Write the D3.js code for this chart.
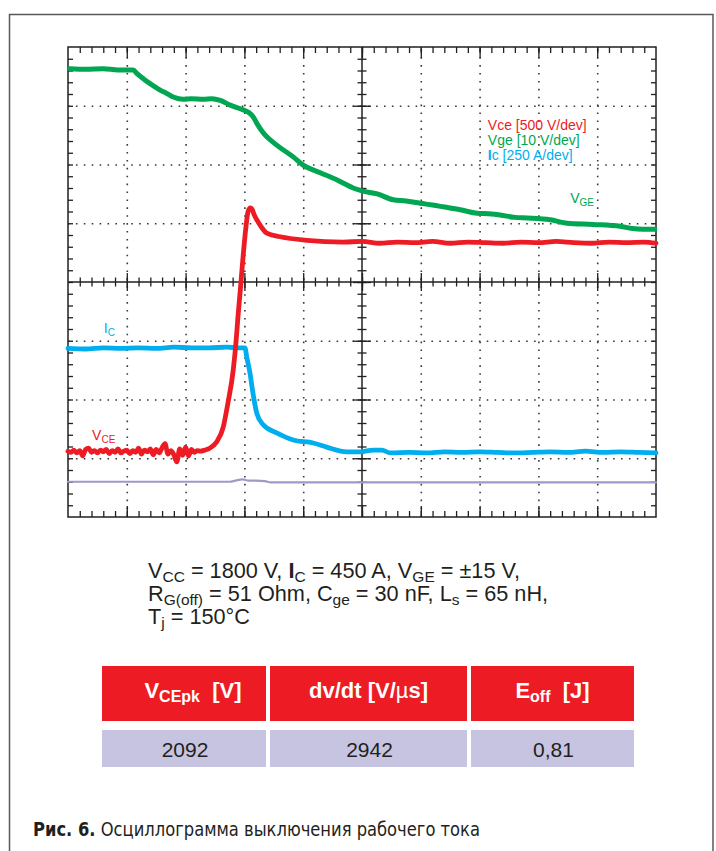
<!DOCTYPE html>
<html>
<head>
<meta charset="utf-8">
<script src="https://cdn.jsdelivr.net/npm/d3@7"></script>
<style>
  body { margin: 0; background: #fff; }
  svg { display: block; }
  text { font-family: "Liberation Sans", Arial, sans-serif; white-space: pre; }
</style>
</head>
<body>
<div id="chart"></div>
<script>
// scope traces: time in divisions (0..10), level in divisions from the bottom (0..8)
const vgeT = [0.03, 0.3, 0.6, 0.85, 1.11, 1.17, 1.28, 1.39, 1.5, 1.56, 1.68, 1.79, 1.96, 2.1, 2.3, 2.45, 2.59, 2.76, 2.98, 3.08, 3.15, 3.23, 3.32, 3.55, 3.83, 4.0, 4.29, 4.57, 4.85, 5.0, 5.26, 5.53, 5.75, 5.99, 6.2, 6.38, 6.67, 6.96, 7.15, 7.35, 7.6, 7.81, 8.2, 8.49, 8.93, 9.39, 9.6, 9.78, 9.98];
const vgeV = [7.63, 7.62, 7.63, 7.61, 7.61, 7.55, 7.46, 7.38, 7.31, 7.27, 7.21, 7.15, 7.11, 7.12, 7.11, 7.12, 7.09, 7.01, 6.93, 6.88, 6.81, 6.67, 6.54, 6.33, 6.13, 5.99, 5.86, 5.74, 5.6, 5.55, 5.5, 5.4, 5.38, 5.34, 5.31, 5.28, 5.23, 5.17, 5.16, 5.14, 5.1, 5.09, 5.06, 5.0, 4.98, 4.95, 4.91, 4.9, 4.9];

const vceT = [0.0, 0.05, 0.1, 0.15, 0.2, 0.25, 0.3, 0.35, 0.4, 0.45, 0.5, 0.55, 0.6, 0.65, 0.7, 0.75, 0.8, 0.85, 0.9, 0.95, 1.0, 1.05, 1.1, 1.15, 1.2, 1.25, 1.3, 1.35, 1.4, 1.45, 1.5, 1.55, 1.6, 1.65, 1.7, 1.75, 1.8, 1.85, 1.9, 1.95, 2.0, 2.05, 2.1, 2.15, 2.2, 2.25, 2.33, 2.41, 2.53, 2.64, 2.72, 2.81, 2.86, 2.89, 2.93, 2.98, 3.03, 3.06, 3.1, 3.13, 3.16, 3.21, 3.3, 3.38, 3.61, 4.06, 4.68, 5.0, 5.3, 5.6, 5.9, 6.2, 6.5, 6.8, 7.1, 7.4, 7.7, 8.0, 8.3, 8.6, 8.9, 9.2, 9.5, 9.8, 10.0];
const vceV = [1.12, 1.1, 1.14, 1.09, 1.13, 1.04, 1.15, 1.17, 1.1, 1.13, 1.09, 1.14, 1.11, 1.15, 1.08, 1.13, 1.1, 1.16, 1.09, 1.12, 1.14, 1.08, 1.13, 1.1, 1.17, 1.07, 1.14, 1.11, 1.16, 1.06, 1.15, 1.09, 1.18, 1.25, 1.07, 1.13, 1.06, 0.94, 1.16, 1.05, 1.19, 1.04, 1.15, 1.1, 1.13, 1.12, 1.14, 1.17, 1.28, 1.53, 1.94, 2.5, 3.01, 3.4, 3.86, 4.46, 4.97, 5.19, 5.26, 5.24, 5.16, 5.06, 4.92, 4.83, 4.77, 4.71, 4.68, 4.69, 4.66, 4.68, 4.67, 4.69, 4.66, 4.68, 4.67, 4.66, 4.68, 4.67, 4.69, 4.67, 4.66, 4.68, 4.67, 4.68, 4.66];

const icT = [0.0, 0.3, 0.6, 0.9, 1.2, 1.5, 1.8, 2.1, 2.4, 2.7, 2.9, 3.01, 3.04, 3.1, 3.13, 3.21, 3.32, 3.55, 3.83, 4.17, 4.4, 4.74, 4.97, 5.19, 5.34, 5.48, 5.8, 6.1, 6.4, 6.7, 7.0, 7.3, 7.6, 7.9, 8.2, 8.5, 8.8, 9.1, 9.4, 9.7, 10.0];
const icV = [2.87, 2.86, 2.88, 2.87, 2.88, 2.87, 2.89, 2.88, 2.88, 2.89, 2.88, 2.88, 2.72, 2.42, 2.21, 1.77, 1.57, 1.43, 1.31, 1.26, 1.19, 1.11, 1.11, 1.14, 1.14, 1.09, 1.1, 1.09, 1.11, 1.1, 1.11, 1.1, 1.09, 1.1, 1.11, 1.1, 1.12, 1.1, 1.11, 1.1, 1.09];

const refT = [0.0, 2.75, 2.85, 2.97, 3.07, 3.19, 3.35, 3.45, 10.0];
const refV = [0.6, 0.6, 0.62, 0.64, 0.62, 0.62, 0.61, 0.59, 0.59];

const legendItems = [
  [{ t: "Vce [500 V/dev]" }],
  [{ t: "Vge [10 V/dev]" }],
  [{ t: "I", bold: 1 }, { t: "c [250 A/dev]" }]
];

const conditions = [
  [{ t: "V" }, { t: "CC", sub: 1 }, { t: " = 1800 V, " }, { t: "I", bold: 1 }, { t: "C", sub: 1 }, { t: " = 450 A, V" }, { t: "GE", sub: 1 }, { t: " = ±15 V," }],
  [{ t: "R" }, { t: "G(off)", sub: 1 }, { t: " = 51 Ohm, C" }, { t: "ge", sub: 1 }, { t: " = 30 nF, L" }, { t: "s", sub: 1 }, { t: " = 65 nH," }],
  [{ t: "T" }, { t: "j", sub: 1 }, { t: " = 150°C" }]
];

const tableHeaders = [
  [{ t: "V" }, { t: "CEpk", sub: 1 }, { t: "  [V]" }],
  [{ t: "dv/dt [V/" }, { t: "µ", light: 1 }, { t: "s]" }],
  [{ t: "E" }, { t: "off", sub: 1 }, { t: "  [J]" }]
];
const tableValues = ["2092", "2942", "0,81"];

const caption = [{ t: "Рис. 6.", bold: 1 }, { t: " Осциллограмма выключения рабочего тока" }];

const RED = "#ed1c24", GREEN = "#00a651", CYAN = "#00aeef", LILAC = "#9f99c9", INK = "#231f20";

const W = 716, H = 851;
const svg = d3.select("#chart").append("svg").attr("width", W).attr("height", H);

// figure frame
svg.append("rect")
  .attr("x", 9.5).attr("y", 14.5).attr("width", 703.5).attr("height", H)
  .attr("fill", "none").attr("stroke", "#58595b").attr("stroke-width", 1.5);

const plot = { left: 68, top: 47, width: 588, height: 470 };
const x = d3.scaleLinear().domain([0, 10]).range([plot.left, plot.left + plot.width]);
const y = d3.scaleLinear().domain([0, 8]).range([plot.top + plot.height, plot.top]);

// dotted graticule
svg.append("g")
  .attr("transform", `translate(0,${y(0)})`)
  .call(d3.axisBottom(x).tickValues([1, 2, 3, 4, 6, 7, 8, 9]).tickSize(-plot.height).tickFormat(""))
  .call(g => g.select(".domain").remove())
  .selectAll("line").attr("stroke", "#3a3a3a").attr("stroke-width", 1.6).attr("stroke-dasharray", "1.6,6.3");
svg.append("g")
  .attr("transform", `translate(${x(0)},0)`)
  .call(d3.axisLeft(y).tickValues([1, 2, 3, 5, 6, 7]).tickSize(-plot.width).tickFormat(""))
  .call(g => g.select(".domain").remove())
  .selectAll("line").attr("stroke", "#3a3a3a").attr("stroke-width", 1.6).attr("stroke-dasharray", "1.6,6.3");

// tick marks on frame and centre lines
const minorX = d3.range(1, 50).map(i => i / 5);
const minorY = d3.range(1, 40).map(i => i / 5);
const majorX = d3.range(1, 10);
const majorY = d3.range(1, 8);
function ticks(axis, tx, ty, vals, size) {
  svg.append("g")
    .attr("transform", `translate(${tx},${ty})`)
    .call(axis.tickValues(vals).tickSize(size).tickSizeOuter(0).tickFormat(""))
    .call(g => g.select(".domain").remove())
    .selectAll("line").attr("stroke", INK).attr("stroke-width", 1.3);
}
ticks(d3.axisBottom(x), 0, y(8), minorX, 6);
ticks(d3.axisBottom(x), 0, y(8), majorX, 11);
ticks(d3.axisTop(x), 0, y(0), minorX, 6);
ticks(d3.axisTop(x), 0, y(0), majorX, 11);
ticks(d3.axisRight(y), x(0), 0, minorY, 5);
ticks(d3.axisLeft(y), x(10), 0, minorY, 5);
ticks(d3.axisBottom(x), 0, y(4), minorX, 4.5);
ticks(d3.axisTop(x), 0, y(4), minorX, 4.5);
ticks(d3.axisBottom(x), 0, y(4), majorX, 9);
ticks(d3.axisTop(x), 0, y(4), majorX, 9);
ticks(d3.axisRight(y), x(5), 0, minorY, 4.5);
ticks(d3.axisLeft(y), x(5), 0, minorY, 4.5);
ticks(d3.axisRight(y), x(5), 0, majorY, 9);
ticks(d3.axisLeft(y), x(5), 0, majorY, 9);

svg.append("line").attr("x1", x(0)).attr("x2", x(10)).attr("y1", y(4)).attr("y2", y(4))
  .attr("stroke", INK).attr("stroke-width", 1.5);
svg.append("line").attr("x1", x(5)).attr("x2", x(5)).attr("y1", y(0)).attr("y2", y(8))
  .attr("stroke", INK).attr("stroke-width", 1.5);
svg.append("rect")
  .attr("x", x(0)).attr("y", y(8)).attr("width", x(10) - x(0)).attr("height", y(0) - y(8))
  .attr("fill", "none").attr("stroke", INK).attr("stroke-width", 1.5);

// traces
const line = d3.line().x(d => x(d[0])).y(d => y(d[1])).curve(d3.curveMonotoneX);
function trace(T, V, color, w) {
  svg.append("path")
    .datum(d3.zip(T, V))
    .attr("d", line)
    .attr("fill", "none")
    .attr("stroke", color)
    .attr("stroke-width", w)
    .attr("stroke-linejoin", "round")
    .attr("stroke-linecap", "round");
}
trace(refT, refV, LILAC, 2.2);
trace(icT, icV, CYAN, 4.8);
trace(vgeT, vgeV, GREEN, 5);
trace(vceT, vceV, RED, 4.8);

// rich text helper: plain, bold and subscript runs
function rich(parent, px, py, parts, o) {
  const t = parent.append("text")
    .attr("x", px).attr("y", py)
    .attr("font-size", o.size)
    .attr("fill", o.color)
    .attr("text-anchor", o.anchor || "start");
  if (o.weight) t.attr("font-weight", o.weight);
  let down = false;
  parts.forEach(p => {
    const s = t.append("tspan").text(p.t);
    if (p.sub) {
      s.attr("font-size", o.sub);
      if (!down) { s.attr("dy", o.shift); down = true; }
    } else if (down) {
      s.attr("dy", -o.shift); down = false;
    }
    if (p.bold) s.attr("font-weight", "bold");
    if (p.light) s.attr("font-weight", "normal");
  });
  return t;
}

// trace labels
rich(svg, x(8.54), y(5.34), [{ t: "V" }, { t: "GE", sub: 1 }], { size: 14, sub: 10, shift: 3, color: GREEN });
rich(svg, x(0.61), y(3.13), [{ t: "I" }, { t: "C", sub: 1 }], { size: 14, sub: 10, shift: 3, color: CYAN });
rich(svg, x(0.41), y(1.31), [{ t: "V" }, { t: "CE", sub: 1 }], { size: 14, sub: 10, shift: 3, color: RED });

// legend
const legendColors = [RED, GREEN, CYAN];
legendItems.forEach((item, i) => {
  rich(svg, x(7.14), y(6.58) + i * 15, item, { size: 14, sub: 10, shift: 3, color: legendColors[i] });
});

// test conditions
conditions.forEach((ln, i) => {
  rich(svg, 148, 578 + i * 23, ln, { size: 21.7, sub: 15.5, shift: 4, color: INK });
});

// results table
const cols = [[102, 266], [270, 467], [471, 634]];
const colShift = [9, 0, 0];
cols.forEach((c, i) => {
  svg.append("rect").attr("x", c[0]).attr("y", 666).attr("width", c[1] - c[0]).attr("height", 55).attr("fill", RED);
  svg.append("rect").attr("x", c[0]).attr("y", 730).attr("width", c[1] - c[0]).attr("height", 37).attr("fill", "#c7c4e1");
  rich(svg, (c[0] + c[1]) / 2 + colShift[i], 698, tableHeaders[i],
    { size: 22, sub: 16, shift: 4, color: "#fff", anchor: "middle", weight: "bold" });
  svg.append("text")
    .attr("x", (c[0] + c[1]) / 2 + 1).attr("y", 757)
    .attr("text-anchor", "middle").attr("font-size", 21).attr("fill", INK)
    .text(tableValues[i]);
});

// caption
rich(svg, 33, 836, caption, { size: 19, sub: 13, shift: 3, color: INK })
  .style("font-family", '"DejaVu Sans Condensed", "Liberation Sans Narrow", "DejaVu Sans", sans-serif')
  .style("font-stretch", "condensed")
  .attr("textLength", 447)
  .attr("lengthAdjust", "spacingAndGlyphs");
</script>
</body>
</html>
